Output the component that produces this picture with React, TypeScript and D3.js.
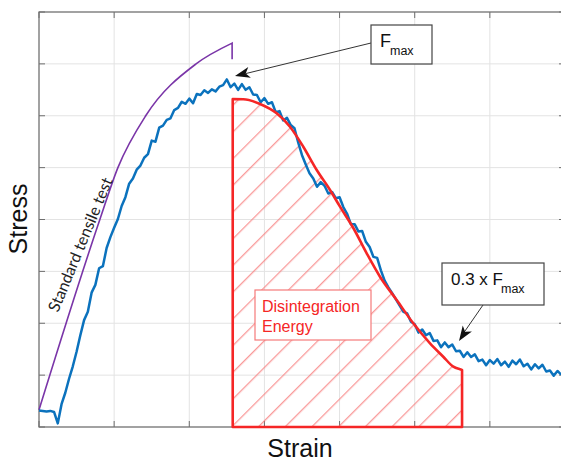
import React from 'react';
import * as d3 from 'd3';

// Blue measured curve (strain in grid units, stress in grid units)
const strain = [0,0.5,1,1.5,2,2.5,3,3.5,4,4.5,5,5.5,6,6.5,7,7.5,8,8.5,9,9.5,10,10.5,11,11.5,12,12.5,13,13.5,14,14.5,15,15.5,16,16.5,17,17.5,18,18.5,19,19.5,20,20.5,21,21.5,22,22.5,23,23.5,24,24.5,25,25.5,26,26.5,27,27.5,28,28.5,29,29.5,30,30.5,31,31.5,32,32.5,33,33.5,34,34.5,35,35.5,36,36.5,37,37.5,38,38.5,39,39.5,40,40.5,41,41.5,42,42.5,43,43.5,44,44.5,45,45.5,46,46.5,47,47.5,48,48.5,49,49.5,50,50.5,51,51.5,52,52.5,53,53.5,54,54.5,55,55.5,56,56.5,57,57.5,58,58.5,59,59.5,60,60.5,61,61.5,62,62.5,63,63.5,64,64.5,65,65.5,66,66.5,67,67.5,68,68.5,69,69.5];
const stress = [3.2,3.1,3.0,3.1,2.9,0.7,4.4,6.6,9.3,11.7,14.5,17.7,20.6,22.2,25.9,27.4,30.6,31.0,34.5,36.6,38.4,40.1,42.6,44.3,46.9,47.9,49.6,50.4,51.9,52.6,55.2,55.0,57.7,58.1,59.2,59.5,61.1,61.5,62.7,62.3,63.3,62.4,64.2,64.0,64.9,64.4,65.1,64.7,65.6,65.9,67.0,65.5,66.2,65.0,66.1,65.0,65.5,64.1,64.0,62.6,63.4,62.3,62.6,60.7,60.9,59.1,59.6,58.2,57.6,54.8,52.4,50.6,48.9,47.9,46.3,47.2,46.5,45.0,45.3,44.1,44.3,42.4,41.1,39.1,39.1,37.7,37.8,35.7,34.7,32.8,32.6,30.2,28.2,26.9,25.8,24.6,23.4,22.2,21.9,20.3,19.8,18.2,18.8,17.7,18.1,16.6,16.7,15.4,16.3,15.4,15.9,14.6,14.7,13.5,14.4,13.5,14.0,12.7,13.0,11.9,12.9,12.2,13.1,11.9,12.6,11.6,12.8,12.1,13.0,11.7,12.2,11.1,12.1,11.3,12.0,10.7,10.9,9.9,10.8,10.1];

// Standard tensile test (purple)
const tensileStrain = [0, 8.1, 10.5, 14.2, 20.9, 25.7];
const tensileStress = [3.3, 40.0, 50.0, 60.0, 70.0, 74.0];
const tensileEndStress = 70.9;

// Disintegration energy boundary (red)
const energyStrain = [25.78, 27.19, 29.41, 31.63, 33.4, 35.17, 36.96, 38.73, 40.06, 41.83, 43.61, 45.38, 47.6, 49.81, 52.04, 53.8, 55.14, 56.03, 56.3];
const energyStress = [63.2, 63.17, 62.27, 60.47, 57.89, 54.03, 49.54, 45.69, 42.47, 38.36, 33.48, 28.97, 24.48, 19.99, 16.13, 13.55, 11.62, 11.12, 11.0];

const xTicks = [0, 10, 20, 30, 40, 50, 60, 70];
const yTicks = [0, 10, 20, 30, 40, 50, 60, 70, 80];

const W = 561;
const H = 461;

function arrowHead(tx: number, ty: number, fx: number, fy: number, len = 15, half = 5.5, back = 4) {
  const dx = fx - tx, dy = fy - ty;
  const d = Math.hypot(dx, dy);
  const ux = dx / d, uy = dy / d;
  const nx = -uy, ny = ux;
  const p1 = [tx + ux * len + nx * half, ty + uy * len + ny * half];
  const p2 = [tx + ux * (len - back), ty + uy * (len - back)];
  const p3 = [tx + ux * len - nx * half, ty + uy * len - ny * half];
  return `M${tx},${ty}L${p1[0]},${p1[1]}L${p2[0]},${p2[1]}L${p3[0]},${p3[1]}Z`;
}

export default function App() {
  const x = d3.scaleLinear().domain([0, 70]).range([39, 565]);
  const y = d3.scaleLinear().domain([0, 80]).range([427, 12]);

  const blue = d3.line<number>().x((_, i) => x(strain[i])).y((d) => y(d))(stress) || '';
  const purplePts = tensileStrain.map((s, i) => [s, tensileStress[i]] as [number, number]);
  const purple = (d3.line<[number, number]>().x((d) => x(d[0])).y((d) => y(d[1])).curve(d3.curveMonotoneX)(purplePts) || '')
    + `L${x(tensileStrain[tensileStrain.length - 1])},${y(tensileEndStress)}`;
  const ePts = energyStrain.map((s, i) => [s, energyStress[i]] as [number, number]);
  const eCurve = d3.line<[number, number]>().x((d) => x(d[0])).y((d) => y(d[1])).curve(d3.curveMonotoneX)(ePts) || '';
  const eStart = energyStrain[0];
  const eEnd = energyStrain[energyStrain.length - 1];
  const energyPath = `M${x(eStart)},${y(0)}L` + eCurve.slice(1) + `L${x(eEnd)},${y(0)}Z`;

  const x0 = x(0), x1 = x(70), yb = y(0), yt = y(80);
  const axisColor = '#6e6e6e';
  const gridColor = '#e3e3e3';
  const tl = 6;
  const hatchStep = 26.7 / Math.SQRT2;
  const hatchOff = ((365 / 26.7) % 1) * hatchStep;

  return (
    <svg width={W} height={H} style={{ position: 'absolute', left: 0, top: 0, background: '#fff' }}
      fontFamily="'Liberation Sans', Arial, sans-serif">
      <defs>
        <pattern id="hatch" patternUnits="userSpaceOnUse" width={hatchStep} height={hatchStep}
          patternTransform="rotate(45)">
          <line x1={hatchOff} y1={-2} x2={hatchOff} y2={hatchStep + 2} stroke="#f77a7a" strokeWidth={1} />
        </pattern>
      </defs>
      <rect x={0} y={0} width={W} height={H} fill="#fff" />
      {/* grid */}
      {xTicks.map((t) => (
        <line key={'gx' + t} x1={x(t)} x2={x(t)} y1={yt} y2={yb} stroke={gridColor} strokeWidth={1} />
      ))}
      {yTicks.map((t) => (
        <line key={'gy' + t} x1={x0} x2={x1} y1={y(t)} y2={y(t)} stroke={gridColor} strokeWidth={1} />
      ))}
      {/* ticks */}
      {xTicks.map((t) => (
        <g key={'tx' + t}>
          <line x1={x(t)} x2={x(t)} y1={yb} y2={yb - tl} stroke={axisColor} />
          <line x1={x(t)} x2={x(t)} y1={yt} y2={yt + tl} stroke={axisColor} />
        </g>
      ))}
      {yTicks.map((t) => (
        <g key={'ty' + t}>
          <line x1={x0} x2={x0 + tl} y1={y(t)} y2={y(t)} stroke={axisColor} />
          <line x1={x1} x2={x1 - tl} y1={y(t)} y2={y(t)} stroke={axisColor} />
        </g>
      ))}
      {/* axes box */}
      <rect x={x0} y={yt} width={x1 - x0} height={yb - yt} fill="none" stroke={axisColor} strokeWidth={1.2} />

      {/* hatch */}
      <path d={energyPath} fill="url(#hatch)" stroke="none" />

      {/* purple tensile */}
      <path d={purple} fill="none" stroke="#7a35a8" strokeWidth={1.6} />

      {/* blue measured */}
      <path d={blue} fill="none" stroke="#0b72bd" strokeWidth={2.5} strokeLinejoin="round" />

      {/* red energy */}
      <path d={energyPath} fill="none" stroke="#f52626" strokeWidth={2.6} strokeLinejoin="round" />

      {/* Standard tensile test */}
      <text transform="translate(58,313) rotate(-67.5)" fontFamily="Lato, 'Open Sans', sans-serif" fontSize={16} fill="#222">
        Standard tensile test
      </text>

      {/* Disintegration energy box */}
      <rect x={255} y={290} width={116} height={50} fill="#fff" stroke="#f57a7a" strokeWidth={1.2} />
      <text x={262} y={312} fontSize={16} fill="#f52626">Disintegration</text>
      <text x={262} y={332} fontSize={16} fill="#f52626">Energy</text>

      {/* Fmax annotation */}
      <line x1={371} y1={43} x2={246} y2={73.5} stroke="#333" strokeWidth={1} />
      <path d={arrowHead(235, 76, 371, 43)} fill="#111" />
      <rect x={371} y={25} width={61} height={39} fill="#fff" stroke="#444" strokeWidth={1.2} />
      <text x={380} y={47} fontSize={18} fill="#111">F</text>
      <text x={390} y={55} fontSize={12.5} fill="#111">max</text>

      {/* 0.3 x Fmax annotation */}
      <line x1={483} y1={305} x2={465} y2={331} stroke="#333" strokeWidth={1} />
      <path d={arrowHead(459, 341, 483, 305)} fill="#111" />
      <rect x={442} y={263} width={102} height={42} fill="#fff" stroke="#444" strokeWidth={1.2} />
      <text x={451} y={285} fontSize={17} fill="#111">0.3 x F</text>
      <text x={501} y={293} fontSize={12.5} fill="#111">max</text>

      {/* axis labels */}
      <text transform="translate(27,219) rotate(-90)" textAnchor="middle" fontSize={25} fill="#111">Stress</text>
      <text x={300} y={457} textAnchor="middle" fontSize={25} fill="#111">Strain</text>
    </svg>
  );
}
